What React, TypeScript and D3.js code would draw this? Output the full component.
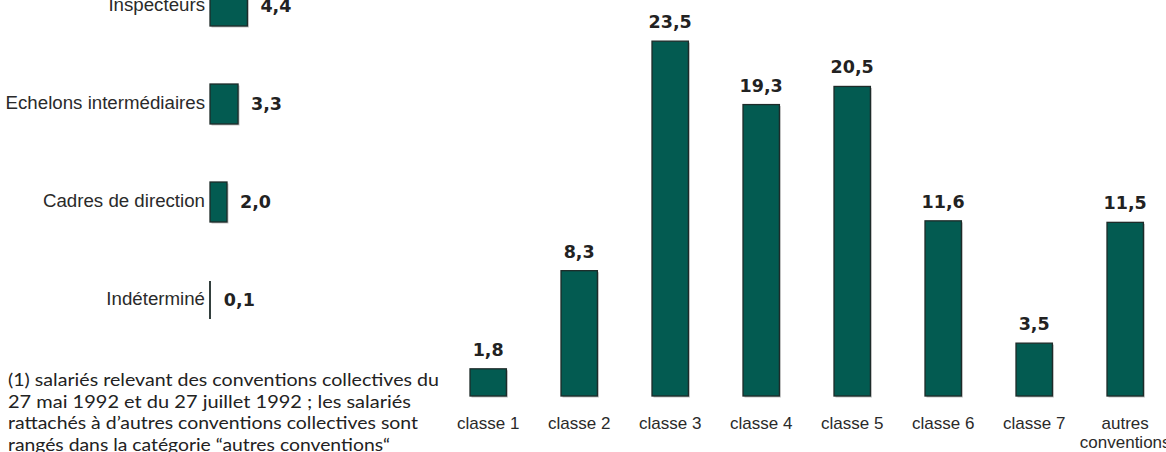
import React from "react";
import * as d3 from "d3";

// Left chart: horizontal bars
const leftCategories = ["Inspecteurs", "Echelons intermédiaires", "Cadres de direction", "Indéterminé"];
const leftValues = [4.4, 3.3, 2.0, 0.1];

// Right chart: vertical bars
const rightCategories = ["classe 1", "classe 2", "classe 3", "classe 4", "classe 5", "classe 6", "classe 7", "autres conventions"];
const rightValues = [1.8, 8.3, 23.5, 19.3, 20.5, 11.6, 3.5, 11.5];

const footnoteLines = [
  "(1) salariés relevant des conventions collectives du",
  "27 mai 1992 et du 27 juillet 1992 ; les salariés",
  "rattachés à d’autres conventions collectives sont",
  "rangés dans la catégorie “autres conventions“",
];
const footnoteWidths = [431, 403, 410, 382];

const W = 1166;
const H = 452;
const FILL = "#035b51";
const STROKE = "#1d2b29";
const SHADOW = "#c4c4c4";
const fmt = (v: number) => v.toFixed(1).replace(".", ",");

export default function App() {
  // left scales
  const xL = d3.scaleLinear().domain([0, 5]).range([210, 252.5]);
  const yL = d3.scaleBand<string>().domain(leftCategories).range([-43, 349]).paddingInner(0.592).paddingOuter(0.296);

  // right scales
  const xR = d3.scaleBand<string>().domain(rightCategories).range([442.7, 1170.7]).paddingInner(0.6).paddingOuter(0.3);
  const yR = d3.scaleLinear().domain([0, 25]).range([396, 18.5]);

  const labelFont = "'Liberation Sans', Arial, Helvetica, sans-serif";
  const valueFont = "'DejaVu Sans', Verdana, sans-serif";

  return (
    <svg width={W} height={H} style={{ position: "absolute", left: 0, top: 0, background: "#fff" }}>
      {/* Left chart */}
      {leftCategories.map((c, i) => {
        const y0 = yL(c)!;
        const bh = yL.bandwidth();
        const w = xL(leftValues[i]) - xL(0);
        const cy = y0 + bh / 2;
        return (
          <g key={c}>
            {w > 2 ? (
              <>
                <rect x={xL(0) + 1.5} y={y0 + 1.5} width={w} height={bh} fill={SHADOW} />
                <rect x={xL(0)} y={y0} width={w} height={bh} fill={FILL} stroke={STROKE} strokeWidth={1.3} />
              </>
            ) : (
              <line x1={xL(0)} x2={xL(0)} y1={y0 + 1} y2={y0 + bh - 1} stroke={STROKE} strokeWidth={1.8} />
            )}
            <text x={205} y={cy + 5} textAnchor="end" fontFamily={labelFont} fontSize={18.7} fill="#2a2a2a">
              {c}
            </text>
            <text x={xL(leftValues[i]) + 13} y={cy + 6} fontFamily={valueFont} fontWeight="bold" fontSize={17.5} fill="#222">
              {fmt(leftValues[i])}
            </text>
          </g>
        );
      })}

      {/* Footnote */}
      {footnoteLines.map((l, i) => (
        <text
          key={i}
          x={8}
          y={386 + i * 21.6}
          fontFamily="Lato, 'Open Sans', sans-serif"
          fontSize={18}
          fill="#222"
          textLength={footnoteWidths[i]}
          lengthAdjust="spacingAndGlyphs"
        >
          {l}
        </text>
      ))}

      {/* Right chart */}
      {rightCategories.map((c, i) => {
        const x0 = xR(c)!;
        const bw = xR.bandwidth();
        const top = yR(rightValues[i]);
        const cx = x0 + bw / 2;
        const words = c === "autres conventions" ? ["autres", "conventions"] : [c];
        return (
          <g key={c}>
            <rect x={x0 + 1.5} y={top + 1.5} width={bw} height={yR(0) - top} fill={SHADOW} />
            <rect x={x0} y={top} width={bw} height={yR(0) - top} fill={FILL} stroke={STROKE} strokeWidth={1.3} />
            <text x={cx} y={top - 13} textAnchor="middle" fontFamily={valueFont} fontWeight="bold" fontSize={17.5} fill="#222">
              {fmt(rightValues[i])}
            </text>
            {words.map((w, j) => (
              <text key={j} x={cx} y={429 + j * 19} textAnchor="middle" fontFamily={labelFont} fontSize={17} fill="#2a2a2a">
                {w}
              </text>
            ))}
          </g>
        );
      })}
    </svg>
  );
}
